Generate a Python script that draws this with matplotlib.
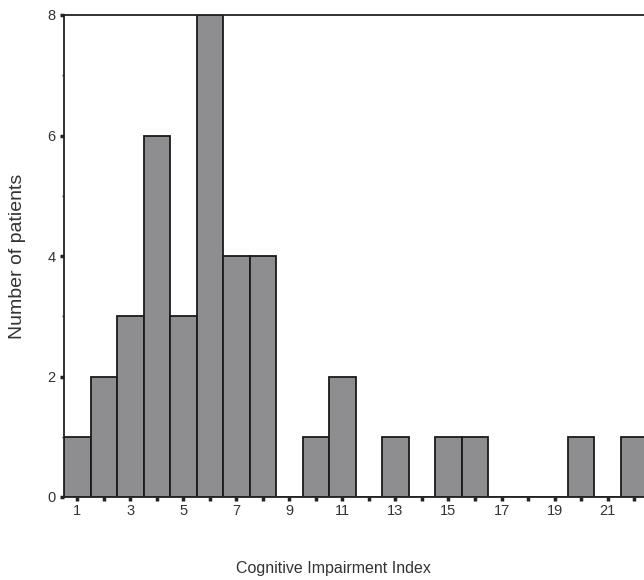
import matplotlib
matplotlib.use("Agg")
import matplotlib.pyplot as plt
from matplotlib.ticker import MultipleLocator

plt.rcParams['font.family'] = ['Liberation Sans', 'DejaVu Sans']

# Histogram of the Cognitive Impairment Index
index_values = list(range(1, 23))
patient_counts = [1, 2, 3, 6, 3, 8, 4, 4, 0, 1, 2, 0, 1, 0, 1, 1, 0, 0, 0, 1, 0, 1]
x_tick_labels = [1, 3, 5, 7, 9, 11, 13, 15, 17, 19, 21]
y_tick_labels = [0, 2, 4, 6, 8]

fig = plt.figure(figsize=(6.44, 5.80), dpi=100)
W, H = 644, 580
ax = fig.add_axes([64 / W, 1 - 497 / H, (650 - 64) / W, (497 - 15) / H])

ax.bar(index_values, patient_counts, width=1.0, color='#8e8e90',
       edgecolor='#1a1a1a', linewidth=1.3, zorder=2)

ax.set_xlim(0.5, 22.6)
ax.set_ylim(0, 8)

ax.set_xticks(x_tick_labels)
ax.set_xticklabels([str(v) for v in x_tick_labels])
ax.xaxis.set_minor_locator(MultipleLocator(1))
ax.set_yticks(y_tick_labels)
ax.set_yticklabels([str(v) for v in y_tick_labels])
ax.yaxis.set_minor_locator(MultipleLocator(1))

ax.tick_params(axis='x', which='both', direction='out', length=3, width=2.5,
               color='#222222', pad=2, labelsize=10.5, labelcolor='#333333')
ax.tick_params(axis='y', which='major', direction='out', length=3, width=2.5,
               color='#222222', pad=3, labelsize=10.5, labelcolor='#333333')
ax.tick_params(axis='y', which='minor', direction='out', length=1.5, width=1,
               color='#333333')

for side in ['left', 'top', 'bottom']:
    ax.spines[side].set_linewidth(1.3)
    ax.spines[side].set_color('#222222')
ax.spines['right'].set_visible(False)

fig.text(18 / W, 1 - 256 / H, 'Number of patients', rotation=90,
         ha='center', va='center', fontsize=14, color='#333333')
fig.text(333 / W, 1 - 568 / H, 'Cognitive Impairment Index',
         ha='center', va='center', fontsize=11.5, color='#333333')

fig.savefig('out.png', dpi=100)
